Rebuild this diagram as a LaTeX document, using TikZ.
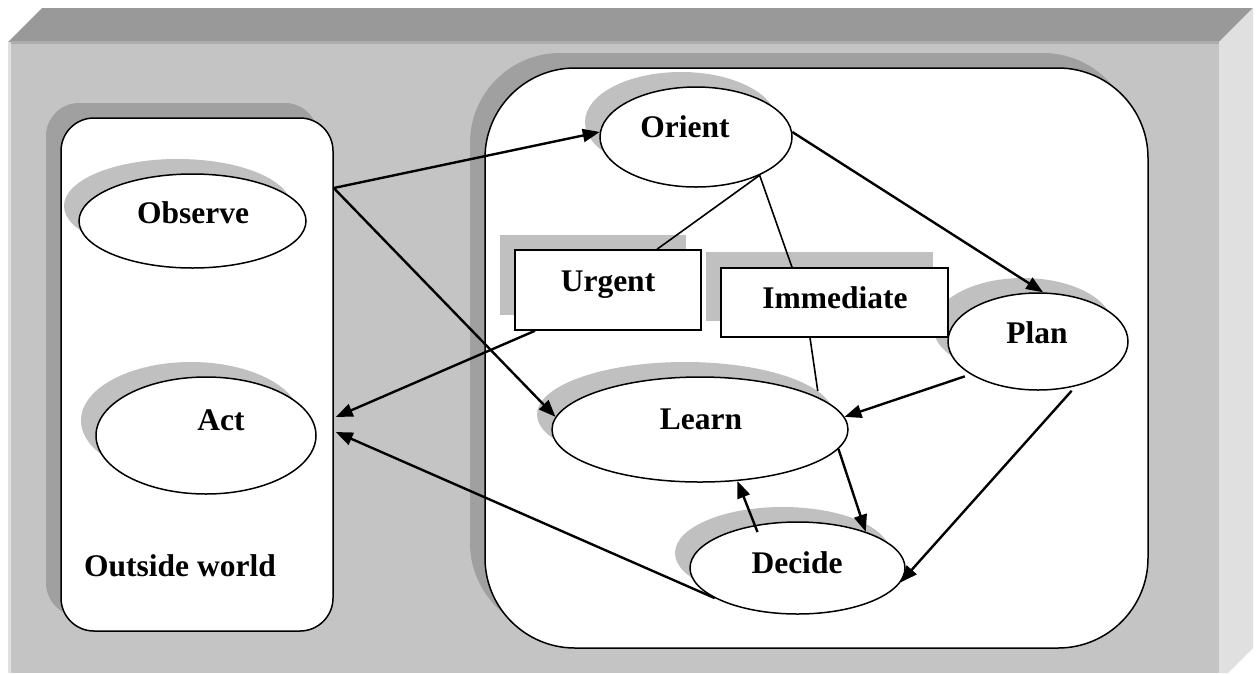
\documentclass[tikz,border=0pt]{standalone}
\usepackage{fontspec}
\setmainfont{Liberation Serif}
\usetikzlibrary{shapes.geometric,arrows.meta}
\definecolor{bevtop}{HTML}{999999}
\definecolor{bevline}{HTML}{ADADAD}
\definecolor{front}{HTML}{C4C4C4}
\definecolor{bevside}{HTML}{E0E0E0}
\definecolor{boxsh}{HTML}{A0A0A0}
\definecolor{objsh}{HTML}{C0C0C0}
\tikzset{
  ell/.style={ellipse, draw=black, line width=1.5pt, fill=white, inner sep=0pt},
  ellsh/.style={ellipse, fill=objsh, draw=none, inner sep=0pt},
  rectbox/.style={rectangle, draw=black, line width=1.5pt, fill=white, inner sep=0pt},
  rectsh/.style={rectangle, fill=objsh, draw=none, inner sep=0pt},
  panel/.style={rectangle, draw=black, line width=1.5pt, fill=white, inner sep=0pt},
  panelsh/.style={rectangle, fill=boxsh, draw=none, inner sep=0pt},
  lbl/.style={font=\fontsize{31.5}{37}\selectfont\bfseries, anchor=base, inner sep=0pt},
  arr/.style={line width=2.4pt, -{Triangle[length=17pt,width=13pt]}},
  plainline/.style={line width=1.6pt},
}
\begin{document}
\begin{tikzpicture}[x=1pt,y=-1pt]
\useasboundingbox (0,0) rectangle (1257,673);
% background bevelled slab
\fill[white] (0,0) rectangle (1257,673);
\fill[bevtop] (8,42) -- (42,8) -- (1253,8) -- (1219,42) -- cycle;
\fill[front] (8,42) rectangle (1219,673);
\fill[bevline] (10.5,41) rectangle (1219,44);
\fill[bevside] (8,42) rectangle (10.5,673);
\fill[bevside] (1219,42) -- (1253,8) -- (1253,648) -- (1228,673) -- (1219,673) -- cycle;

% panels
\node[panelsh, rounded corners=33pt, minimum width=272pt, minimum height=513pt] (worldsh) at (182,359.5) {};
\node[panelsh, rounded corners=90pt, minimum width=663pt, minimum height=580pt] (mindsh) at (801.5,343) {};
\node[panel, rounded corners=33pt, minimum width=272pt, minimum height=513pt] (world) at (197,374.5) {};
\node[panel, rounded corners=90pt, minimum width=663pt, minimum height=580pt] (mind) at (816.5,358) {};

% object shadows
\node[ellsh, minimum width=227pt, minimum height=94pt] (observesh) at (177.5,206) {};
\node[ellsh, minimum width=220pt, minimum height=117pt] (actsh) at (191,420.5) {};
\node[ellsh, minimum width=192pt, minimum height=100pt] (orientsh) at (681,122) {};
\node[ellsh, minimum width=180pt, minimum height=97pt] (plansh) at (1023,326.5) {};
\node[ellsh, minimum width=296pt, minimum height=105pt] (learnsh) at (685,414.5) {};
\node[ellsh, minimum width=215pt, minimum height=92pt] (decidesh) at (782.5,553) {};
\node[rectsh, minimum width=186pt, minimum height=80pt] (urgentsh) at (592.5,274.5) {};
\node[rectsh, minimum width=227pt, minimum height=69pt] (immediatesh) at (819,286.5) {};

% objects
\node[rectbox, minimum width=186pt, minimum height=80pt] (urgent) at (608,290) {};
\node[rectbox, minimum width=227pt, minimum height=69pt] (immediate) at (834.5,302.5) {};
\node[ell, minimum width=227pt, minimum height=94pt] (observe) at (192.5,221) {};
\node[ell, minimum width=220pt, minimum height=117pt] (act) at (206,435.5) {};
\node[ell, minimum width=192pt, minimum height=100pt] (orient) at (696,137) {};
\node[ell, minimum width=180pt, minimum height=97pt] (plan) at (1038,341.5) {};
\node[ell, minimum width=296pt, minimum height=105pt] (learn) at (700,429.5) {};
\node[ell, minimum width=215pt, minimum height=92pt] (decide) at (797.5,568) {};

% labels
\node[lbl] (tOrient) at (685,137) {Orient};
\node[lbl] (tObserve) at (193,223) {Observe};
\node[lbl] (tAct) at (221,430) {Act};
\node[lbl] (tPlan) at (1037,343) {Plan};
\node[lbl] (tLearn) at (701,429) {Learn};
\node[lbl] (tDecide) at (797,573) {Decide};
\node[lbl] (tUrgent) at (608,291) {Urgent};
\node[lbl] (tImmediate) at (835,308) {Immediate};
\node[lbl] (tWorld) at (180,576) {Outside world};

% free ends on the outside-world panel
\coordinate (obsout) at (world.east |- 0,188);
\coordinate (actin1) at ([xshift=2pt]world.east |- 0,417);
\coordinate (actin2) at ([xshift=2pt]world.east |- 0,432);

% plain lines
\draw[plainline] (orient.329) -- ([xshift=49pt]urgent.north);
\draw[plainline] (orient.329) -- ([xshift=-42.5pt]immediate.north);
\draw[plainline] ([xshift=-24.5pt]immediate.south) -- (learnsh.10);

% arrows
\draw[arr] (obsout) -- (orient.177);
\draw[arr] (obsout) -- (learn.175);
\draw[arr] ([xshift=-73pt]urgent.south) -- (actin1);
\draw[arr] (decide.200) -- (actin2);
\draw[arr] (orient.3) -- (plan.84);
\draw[arr, shorten <=6pt] (plan.206) -- (learn.5);
\draw[arr, shorten <=6pt] (plan.310) -- (decide.352);
\draw[arr] (learn.352) -- (decide.28);
\draw[arr] ([shift={(-40,-36)}]decide.center) -- (learn.306);
\end{tikzpicture}
\end{document}
